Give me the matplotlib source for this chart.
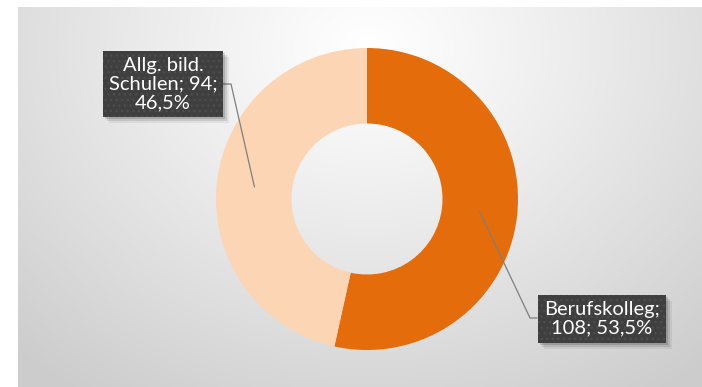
import numpy as np
import matplotlib
matplotlib.use("Agg")
import matplotlib.pyplot as plt
from matplotlib.patches import Rectangle

categories = ["Berufskolleg", "Allg. bild. Schulen"]
values = [108, 94]
percents = ["53,5%", "46,5%"]
colors = ["#E46C0A", "#FCD5B5"]
label_texts = ["Berufskolleg;\n108; 53,5%", "Allg. bild.\nSchulen; 94;\n46,5%"]

W, H = 702, 387
fig = plt.figure(figsize=(W / 100, H / 100), dpi=100)
fig.patch.set_facecolor("white")

# background panel with radial gradient
bg = fig.add_axes([18 / W, 0, 1 - 18 / W, 1 - 7 / H])
bg.set_axis_off()
yy, xx = np.mgrid[0:380, 0:684]
cx, cy = 350, 40
d = np.sqrt(((xx - cx) / 520.0) ** 2 + ((yy - cy) / 420.0) ** 2)
d = np.clip(d, 0, 1)
val = 1.0 - 0.20 * d ** 1.1
img = np.dstack([val, val, val])
bg.imshow(img, aspect="auto", extent=[0, 1, 0, 1], origin="upper")

# donut axes
r_px = 151
cxp, cyp = 367, 199
ax = fig.add_axes([(cxp - r_px) / W, (H - cyp - r_px) / H, 2 * r_px / W, 2 * r_px / H])
ax.set_axis_off()
wedges, _ = ax.pie(values, colors=colors, startangle=90, counterclock=False,
                   wedgeprops=dict(width=0.5, edgecolor="none"), radius=1.0)
ax.set_xlim(-1, 1)
ax.set_ylim(-1, 1)

def px2d(x, y):
    return ((x - cxp) / r_px, (cyp - y) / r_px)

font = dict(family=["Lato", "DejaVu Sans"], fontsize=14.5, color="white")
box = dict(boxstyle="square,pad=0.3", facecolor="#3f3f3f", edgecolor="#4d4d4d",
           linewidth=0, hatch="...")

label_pos = [px2d(602, 319), px2d(163, 84)]
elbow = [px2d(530, 318), px2d(231, 84)]
box_edge = [px2d(537, 318), px2d(223, 84)]

for i, w in enumerate(wedges):
    ang = np.deg2rad((w.theta1 + w.theta2) / 2)
    ax_pt = (0.75 * np.cos(ang), 0.75 * np.sin(ang))
    ax.plot([ax_pt[0], elbow[i][0], box_edge[i][0]],
            [ax_pt[1], elbow[i][1], box_edge[i][1]],
            color="#7f7f7f", lw=0.9, clip_on=False, zorder=3)

texts = []
for i in range(len(wedges)):
    sx, sy = label_pos[i]
    fx, fy = fig.transFigure.inverted().transform(ax.transData.transform((sx, sy)))
    t = fig.text(fx, fy, label_texts[i], ha="center", va="center", linespacing=1.1,
                 zorder=10, bbox=box, **font)
    texts.append(t)

fig.canvas.draw()
r = fig.canvas.get_renderer()
for t in texts:
    bb = t.get_bbox_patch().get_window_extent(r)
    for k, a in [(6, 0.06), (4, 0.10), (2, 0.14)]:
        rect = Rectangle((bb.x0 + k, bb.y0 - k), bb.width, bb.height,
                         transform=None, facecolor="black", alpha=a,
                         edgecolor="none", zorder=4)
        fig.add_artist(rect)

fig.savefig("out.png", dpi=100)
